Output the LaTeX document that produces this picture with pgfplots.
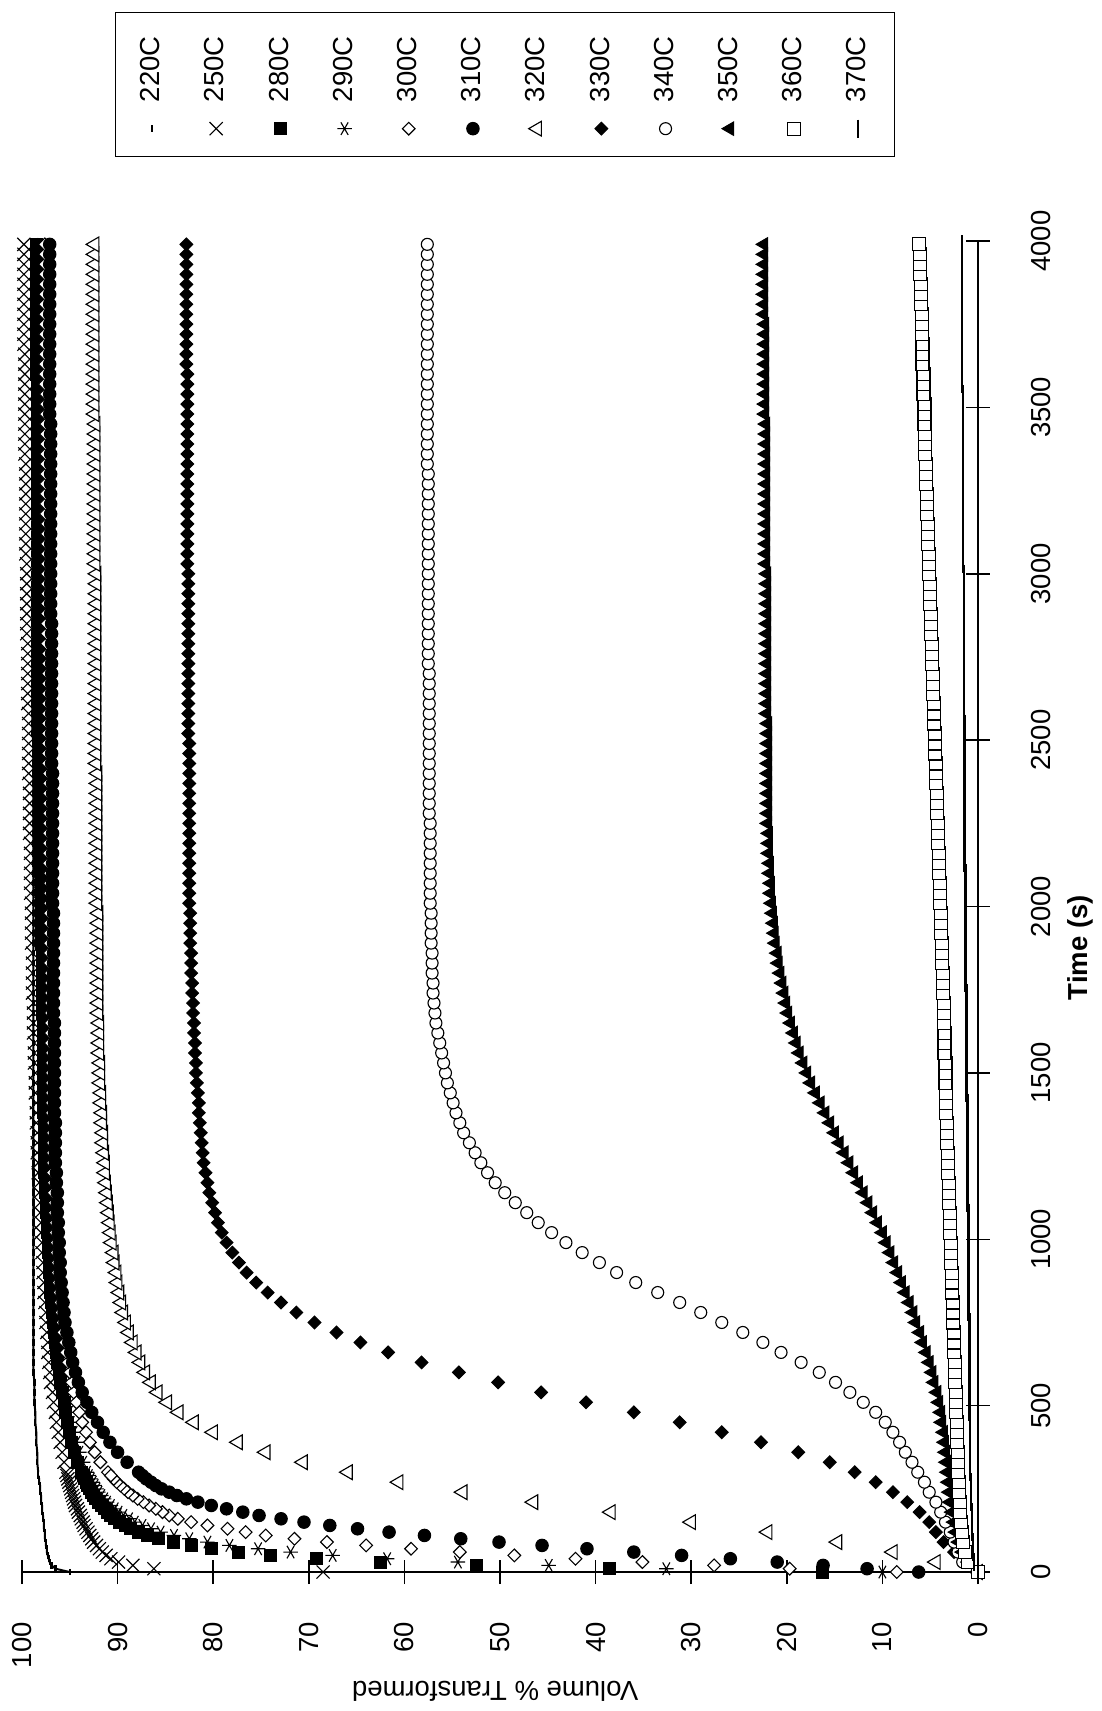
\documentclass[border=0pt]{standalone}
\usepackage{pgfplots}
\pgfplotsset{compat=1.18}
\usepackage{pgfplotstable}
\usepackage{fontspec}
\setmainfont{Liberation Sans}

% early, dense data (10 s) for the fast series
\pgfplotstableread{
t a b c d e f
0 95.0 68.5 16.3 10.0 8.5 6.2
10 96.5 86.2 38.5 32.6 19.7 11.6
20 96.9 88.4 52.5 44.9 27.6 16.2
30 97.1 89.9 62.5 54.4 35.1 21.0
40 97.2 90.7 69.2 61.8 42.1 25.9
50 97.3 91.2 74.0 67.5 48.5 31.0
60 97.4 91.6 77.4 71.9 54.2 36.0
70 97.4 91.9 80.2 75.3 59.3 40.9
80 97.5 92.2 82.3 78.3 64.0 45.6
90 97.5 92.5 84.2 80.6 68.1 50.1
100 97.6 92.7 85.7 82.5 71.5 54.1
110 97.6 92.9 86.9 84.1 74.5 57.9
120 97.6 93.1 87.8 85.5 76.6 61.6
130 97.7 93.3 88.6 86.5 78.5 64.9
140 97.7 93.5 89.2 87.4 80.6 67.8
150 97.7 93.6 89.8 88.2 82.3 70.5
160 97.8 93.8 90.3 88.8 83.7 72.9
170 97.8 93.9 90.7 89.4 84.6 75.2
180 97.9 94.1 91.1 89.9 85.3 76.9
190 97.9 94.2 91.4 90.3 86.0 78.6
200 97.9 94.4 91.7 90.7 86.7 80.2
210 98.0 94.5 92.0 91.1 87.3 81.6
220 98.0 94.6 92.3 91.4 87.9 82.8
230 98.0 94.7 92.5 91.7 88.4 83.8
240 98.1 94.8 92.7 92.0 88.9 84.6
250 98.1 94.9 92.9 92.2 89.3 85.4
260 98.1 95.0 93.1 92.4 89.7 86.0
270 98.2 95.1 93.3 92.6 90.1 86.5
280 98.2 95.2 93.5 92.8 90.4 87.0
290 98.3 95.3 93.6 93.0 90.7 87.4
}\early

\pgfplotstableread{
t c220 c250 c280 c290 c300 c310 c320 c330 c340 c350 c360 c370
0 nan nan nan nan nan nan 0.0 0.0 0.0 0.0 0.0 0.0
30 nan nan nan nan nan nan 4.4 1.3 1.6 1.0 1.0 0.4
60 nan nan nan nan nan nan 8.9 2.5 2.1 1.6 1.4 0.5
90 nan nan nan nan nan nan 14.7 3.6 2.5 2.0 1.6 0.5
120 nan nan nan nan nan nan 22.0 4.4 2.9 2.3 1.7 0.6
150 nan nan nan nan nan nan 30.0 5.1 3.4 2.5 1.8 0.6
180 nan nan nan nan nan nan 38.4 6.1 3.9 2.7 1.9 0.6
210 nan nan nan nan nan nan 46.5 7.4 4.4 2.9 1.9 0.7
240 nan nan nan nan nan nan 53.9 8.9 5.1 3.0 2.0 0.7
270 nan nan nan nan nan nan 60.6 10.7 5.6 3.1 2.0 0.7
300 98.3 95.4 93.8 93.2 91.0 87.8 65.9 12.9 6.3 3.2 2.1 0.8
330 98.4 95.6 94.2 93.6 91.8 89.0 70.6 15.5 6.9 3.3 2.1 0.8
360 98.4 95.8 94.5 94.0 92.4 90.0 74.5 18.8 7.6 3.4 2.1 0.8
390 98.5 96.0 94.8 94.3 92.9 90.8 77.4 22.7 8.2 3.5 2.2 0.8
420 98.5 96.2 95.0 94.6 93.3 91.5 80.0 26.8 8.9 3.6 2.2 0.8
450 98.6 96.4 95.2 94.9 93.7 92.1 82.0 31.2 9.7 3.8 2.2 0.8
480 98.6 96.5 95.4 95.1 94.0 92.7 83.6 36.0 10.7 3.9 2.3 0.9
510 98.7 96.7 95.6 95.3 94.3 93.2 84.8 41.0 12.0 4.1 2.3 0.9
540 98.7 96.8 95.8 95.5 94.6 93.7 85.8 45.7 13.4 4.3 2.3 0.9
570 98.7 97.0 96.0 95.7 94.8 94.1 86.5 50.2 14.9 4.6 2.4 0.9
600 98.8 97.1 96.1 95.8 95.0 94.4 87.1 54.3 16.6 4.8 2.4 0.9
630 98.8 97.2 96.3 96.0 95.2 94.7 87.6 58.2 18.5 5.1 2.4 0.9
660 98.8 97.3 96.4 96.1 95.4 94.9 88.0 61.7 20.6 5.4 2.5 0.9
690 98.8 97.3 96.5 96.2 95.5 95.1 88.4 64.6 22.5 5.8 2.5 0.9
720 98.8 97.4 96.6 96.3 95.7 95.3 88.8 67.1 24.6 6.1 2.5 0.9
750 98.8 97.5 96.7 96.4 95.8 95.5 89.1 69.4 26.8 6.5 2.6 0.9
780 98.8 97.5 96.8 96.5 95.9 95.6 89.4 71.3 29.0 6.8 2.6 1.0
810 98.8 97.6 96.9 96.6 96.0 95.7 89.6 72.9 31.2 7.2 2.6 1.0
840 98.8 97.7 97.0 96.7 96.1 95.8 89.8 74.3 33.5 7.6 2.7 1.0
870 98.8 97.7 97.0 96.7 96.2 95.9 90.0 75.5 35.8 8.0 2.7 1.0
900 98.8 97.8 97.1 96.8 96.3 96.0 90.1 76.5 37.8 8.4 2.7 1.0
930 98.8 97.8 97.1 96.8 96.3 96.0 90.3 77.3 39.6 8.8 2.8 1.0
960 98.8 97.9 97.2 96.9 96.4 96.1 90.4 78.0 41.4 9.2 2.8 1.0
990 98.8 97.9 97.2 96.9 96.4 96.1 90.6 78.6 43.1 9.6 2.8 1.0
1020 98.8 98.0 97.3 97.0 96.5 96.2 90.7 79.1 44.6 10.0 2.9 1.0
1050 98.8 98.0 97.3 97.0 96.5 96.2 90.8 79.5 46.0 10.5 2.9 1.0
1080 98.8 98.1 97.4 97.0 96.6 96.3 90.9 79.8 47.2 11.0 2.9 1.0
1110 98.8 98.1 97.4 97.1 96.6 96.3 91.0 80.1 48.4 11.5 3.0 1.1
1140 98.8 98.2 97.5 97.1 96.7 96.3 91.1 80.4 49.5 12.0 3.0 1.1
1170 98.8 98.2 97.5 97.1 96.7 96.4 91.2 80.6 50.5 12.5 3.0 1.1
1200 98.8 98.3 97.6 97.2 96.8 96.4 91.3 80.8 51.3 13.0 3.1 1.1
1230 98.8 98.3 97.6 97.2 96.8 96.5 91.3 81.0 52.0 13.5 3.1 1.1
1260 98.8 98.4 97.6 97.2 96.8 96.5 91.4 81.1 52.6 14.0 3.1 1.1
1290 98.8 98.4 97.6 97.2 96.8 96.5 91.5 81.2 53.2 14.5 3.2 1.1
1320 98.8 98.4 97.6 97.2 96.8 96.5 91.5 81.3 53.8 15.0 3.2 1.1
1350 98.8 98.5 97.6 97.2 96.8 96.5 91.6 81.4 54.2 15.5 3.2 1.1
1380 98.8 98.5 97.7 97.3 96.9 96.6 91.6 81.5 54.6 16.0 3.3 1.1
1410 98.8 98.5 97.7 97.3 96.9 96.6 91.7 81.5 54.9 16.5 3.3 1.1
1440 98.8 98.6 97.7 97.3 96.9 96.6 91.7 81.6 55.2 17.0 3.3 1.2
1470 98.8 98.6 97.7 97.3 96.9 96.6 91.8 81.7 55.5 17.5 3.4 1.2
1500 98.8 98.6 97.7 97.3 96.9 96.6 91.8 81.8 55.7 17.9 3.4 1.2
1530 98.8 98.7 97.8 97.4 96.9 96.6 91.8 81.8 55.9 18.3 3.4 1.2
1560 98.8 98.7 97.8 97.4 96.9 96.6 91.9 81.9 56.1 18.7 3.5 1.2
1590 98.8 98.7 97.8 97.4 97.0 96.6 91.9 81.9 56.3 19.0 3.5 1.2
1620 98.8 98.8 97.8 97.4 97.0 96.6 91.9 82.0 56.5 19.3 3.5 1.2
1650 98.8 98.8 97.8 97.4 97.0 96.6 91.9 82.0 56.7 19.6 3.6 1.2
1680 98.8 98.8 97.9 97.4 97.0 96.7 92.0 82.1 56.8 19.9 3.6 1.2
1710 98.8 98.8 97.9 97.4 97.0 96.7 92.0 82.1 56.9 20.1 3.6 1.2
1740 98.8 98.9 97.9 97.4 97.0 96.7 92.0 82.2 57.0 20.3 3.7 1.2
1770 98.8 98.9 97.9 97.5 97.0 96.7 92.0 82.2 57.0 20.5 3.7 1.3
1800 98.8 98.9 97.9 97.5 97.0 96.7 92.0 82.3 57.1 20.7 3.7 1.3
1830 98.8 98.9 97.9 97.5 97.1 96.7 92.0 82.3 57.1 20.9 3.8 1.3
1860 98.8 98.9 97.9 97.5 97.1 96.7 92.0 82.3 57.1 21.0 3.8 1.3
1890 98.8 99.0 98.0 97.5 97.1 96.7 92.0 82.4 57.2 21.2 3.8 1.3
1920 98.8 99.0 98.0 97.5 97.1 96.7 92.0 82.4 57.2 21.3 3.9 1.3
1950 98.8 99.0 98.0 97.5 97.1 96.7 92.0 82.4 57.2 21.4 3.9 1.3
1980 98.8 99.0 98.0 97.5 97.1 96.7 92.0 82.4 57.2 21.5 3.9 1.3
2010 98.8 99.0 98.0 97.6 97.1 96.8 92.1 82.5 57.3 21.6 4.0 1.3
2040 98.8 99.1 98.0 97.6 97.1 96.8 92.1 82.5 57.3 21.7 4.0 1.3
2070 98.8 99.1 98.0 97.6 97.1 96.8 92.1 82.5 57.3 21.7 4.0 1.3
2100 98.8 99.1 98.0 97.6 97.1 96.8 92.1 82.5 57.3 21.8 4.1 1.3
2130 98.8 99.1 98.1 97.6 97.2 96.8 92.1 82.5 57.3 21.8 4.1 1.4
2160 98.8 99.1 98.1 97.6 97.2 96.8 92.1 82.5 57.3 21.9 4.1 1.4
2190 98.8 99.1 98.1 97.6 97.2 96.8 92.1 82.5 57.3 21.9 4.2 1.4
2220 98.8 99.2 98.1 97.6 97.2 96.8 92.1 82.5 57.3 21.9 4.2 1.4
2250 98.8 99.2 98.1 97.6 97.2 96.8 92.1 82.5 57.3 22.0 4.2 1.4
2280 98.8 99.2 98.1 97.6 97.2 96.8 92.1 82.5 57.4 22.0 4.3 1.4
2310 98.8 99.2 98.1 97.7 97.2 96.8 92.1 82.5 57.4 22.0 4.3 1.4
2340 98.8 99.2 98.1 97.7 97.2 96.8 92.1 82.5 57.4 22.0 4.3 1.4
2370 98.8 99.2 98.1 97.7 97.2 96.8 92.1 82.5 57.4 22.0 4.4 1.4
2400 98.8 99.3 98.1 97.7 97.2 96.8 92.1 82.5 57.4 22.0 4.4 1.4
2430 98.8 99.3 98.2 97.7 97.3 96.9 92.2 82.5 57.4 22.0 4.4 1.4
2460 98.8 99.3 98.2 97.7 97.3 96.9 92.2 82.5 57.4 22.0 4.5 1.4
2490 98.8 99.3 98.2 97.7 97.3 96.9 92.2 82.5 57.4 22.0 4.5 1.4
2520 98.9 99.3 98.2 97.7 97.3 96.9 92.2 82.6 57.4 22.0 4.5 1.4
2550 98.9 99.3 98.2 97.7 97.3 96.9 92.2 82.6 57.4 22.0 4.6 1.4
2580 98.9 99.3 98.2 97.7 97.3 96.9 92.2 82.6 57.4 22.1 4.6 1.5
2610 98.9 99.4 98.2 97.7 97.3 96.9 92.2 82.6 57.4 22.1 4.6 1.5
2640 98.9 99.4 98.2 97.7 97.3 96.9 92.2 82.6 57.4 22.1 4.7 1.5
2670 98.9 99.4 98.2 97.8 97.3 96.9 92.2 82.6 57.4 22.1 4.7 1.5
2700 98.9 99.4 98.2 97.8 97.3 96.9 92.2 82.6 57.4 22.1 4.7 1.5
2730 98.9 99.4 98.2 97.8 97.3 96.9 92.2 82.6 57.5 22.1 4.8 1.5
2760 98.9 99.4 98.2 97.8 97.3 96.9 92.2 82.6 57.5 22.1 4.8 1.5
2790 98.9 99.4 98.3 97.8 97.4 96.9 92.2 82.6 57.5 22.1 4.8 1.5
2820 98.9 99.5 98.3 97.8 97.4 96.9 92.2 82.6 57.5 22.1 4.9 1.5
2850 98.9 99.5 98.3 97.8 97.4 96.9 92.2 82.6 57.5 22.1 4.9 1.5
2880 98.9 99.5 98.3 97.8 97.4 97.0 92.2 82.6 57.5 22.1 4.9 1.5
2910 98.9 99.5 98.3 97.8 97.4 97.0 92.2 82.6 57.5 22.1 5.0 1.5
2940 98.9 99.5 98.3 97.8 97.4 97.0 92.2 82.6 57.5 22.1 5.0 1.5
2970 98.9 99.5 98.3 97.8 97.4 97.0 92.2 82.6 57.5 22.1 5.0 1.5
3000 98.9 99.5 98.3 97.8 97.4 97.0 92.2 82.6 57.5 22.1 5.1 1.5
3030 98.9 99.5 98.3 97.8 97.4 97.0 92.3 82.7 57.5 22.2 5.1 1.6
3060 98.9 99.6 98.3 97.8 97.4 97.0 92.3 82.7 57.5 22.2 5.1 1.6
3090 98.9 99.6 98.3 97.9 97.4 97.0 92.3 82.7 57.5 22.2 5.2 1.6
3120 98.9 99.6 98.3 97.9 97.4 97.0 92.3 82.7 57.5 22.2 5.2 1.6
3150 98.9 99.6 98.3 97.9 97.4 97.0 92.3 82.7 57.5 22.2 5.2 1.6
3180 98.9 99.6 98.4 97.9 97.5 97.0 92.3 82.7 57.5 22.2 5.3 1.6
3210 98.9 99.6 98.4 97.9 97.5 97.0 92.3 82.7 57.5 22.2 5.3 1.6
3240 98.9 99.6 98.4 97.9 97.5 97.0 92.3 82.7 57.5 22.2 5.3 1.6
3270 98.9 99.6 98.4 97.9 97.5 97.0 92.3 82.7 57.5 22.2 5.4 1.6
3300 98.9 99.6 98.4 97.9 97.5 97.0 92.3 82.7 57.5 22.2 5.4 1.6
3330 98.9 99.6 98.4 97.9 97.5 97.0 92.3 82.7 57.6 22.2 5.4 1.6
3360 98.9 99.7 98.4 97.9 97.5 97.0 92.3 82.7 57.6 22.2 5.5 1.6
3390 98.9 99.7 98.4 97.9 97.5 97.0 92.3 82.7 57.6 22.2 5.5 1.6
3420 98.9 99.7 98.4 97.9 97.5 97.0 92.3 82.7 57.6 22.2 5.5 1.6
3450 98.9 99.7 98.4 97.9 97.5 97.0 92.3 82.7 57.6 22.2 5.6 1.6
3480 98.9 99.7 98.4 97.9 97.5 97.1 92.4 82.7 57.6 22.3 5.6 1.6
3510 98.9 99.7 98.4 97.9 97.5 97.1 92.4 82.7 57.6 22.3 5.6 1.6
3540 98.9 99.7 98.4 98.0 97.5 97.1 92.4 82.7 57.6 22.3 5.7 1.6
3570 98.9 99.7 98.4 98.0 97.6 97.1 92.4 82.7 57.6 22.3 5.7 1.7
3600 98.9 99.7 98.5 98.0 97.6 97.1 92.4 82.7 57.6 22.3 5.7 1.7
3630 98.9 99.7 98.5 98.0 97.6 97.1 92.4 82.8 57.6 22.3 5.8 1.7
3660 98.9 99.7 98.5 98.0 97.6 97.1 92.4 82.8 57.6 22.3 5.8 1.7
3690 98.9 99.8 98.5 98.0 97.6 97.1 92.4 82.8 57.6 22.3 5.8 1.7
3720 98.9 99.8 98.5 98.0 97.6 97.1 92.4 82.8 57.6 22.3 5.9 1.7
3750 98.9 99.8 98.5 98.0 97.6 97.1 92.4 82.8 57.6 22.3 5.9 1.7
3780 98.9 99.8 98.5 98.0 97.6 97.1 92.4 82.8 57.6 22.4 5.9 1.7
3810 98.9 99.8 98.5 98.0 97.6 97.1 92.4 82.8 57.6 22.4 6.0 1.7
3840 98.9 99.8 98.5 98.0 97.6 97.1 92.4 82.8 57.6 22.4 6.0 1.7
3870 98.9 99.8 98.5 98.0 97.6 97.1 92.4 82.8 57.6 22.4 6.0 1.7
3900 98.9 99.8 98.5 98.0 97.6 97.1 92.4 82.8 57.6 22.4 6.1 1.7
3930 98.9 99.8 98.5 98.0 97.6 97.1 92.4 82.8 57.6 22.4 6.1 1.7
3960 98.9 99.8 98.5 98.0 97.6 97.1 92.4 82.8 57.6 22.4 6.1 1.7
3990 98.9 99.8 98.5 98.0 97.6 97.1 92.4 82.8 57.6 22.4 6.2 1.7
}\main

\pgfplotsset{
  mk/.style={only marks},
  s220/.style={mk, mark=-, mark size=1.3pt, mark options={line width=0.9pt, draw=black}},
  s250/.style={mk, mark=x, mark size=3.7pt, mark options={line width=0.45pt, draw=black}},
  s280/.style={mk, mark=square*, mark size=2.4pt, mark options={line width=0.4pt, draw=black, fill=black}},
  s290/.style={mk, mark=asterisk, mark size=2.9pt, mark options={line width=0.45pt, draw=black}},
  s300/.style={mk, mark=square*, mark size=1.8pt, mark options={rotate=45, line width=0.45pt, draw=black, fill=white}},
  s310/.style={mk, mark=*, mark size=2.5pt, mark options={line width=0.4pt, draw=black, fill=black}},
  s320/.style={mk, mark=triangle*, mark size=3.4pt, mark options={line width=0.45pt, draw=black, fill=white}},
  s330/.style={mk, mark=square*, mark size=1.8pt, mark options={rotate=45, line width=0.4pt, draw=black, fill=black}},
  s340/.style={mk, mark=*, mark size=2.4pt, mark options={line width=0.45pt, draw=black, fill=white}},
  s350/.style={mk, mark=triangle*, mark size=3.1pt, mark options={line width=0.4pt, draw=black, fill=black}},
  s360/.style={mk, mark=square*, mark size=2.6pt, mark options={line width=0.45pt, draw=black, fill=white}},
  s370/.style={mk, mark=-, mark size=3.6pt, mark options={line width=0.9pt, draw=black}},
}

\begin{document}
\begin{tikzpicture}
\begin{scope}[rotate=90, transform shape]
\begin{axis}[
  scale only axis, width=532.4pt, height=382.4pt,
  xmin=0, xmax=4000, ymin=0, ymax=100,
  axis lines=left, axis line style={-, line width=0.6pt},
  xtick={0,500,...,4000}, ytick={0,10,...,100},
  tick align=center, major tick length=9.6pt,
  tick style={line width=0.6pt, black},
  clip=false,
  scaled x ticks=false, scaled y ticks=false,
  /pgf/number format/1000 sep={},
  /pgf/number format/assume math mode=true,
  tick label style={font=\fontsize{11}{13}\selectfont},
  xticklabel style={yshift=-12.9pt},
  yticklabel style={xshift=-11.7pt},
  xlabel={Time (s)}, ylabel={Volume \% Transformed},
  xlabel style={at={(axis description cs:0.469,-0.1067)}, anchor=center, font=\fontsize{11}{13}\selectfont\bfseries},
  ylabel style={at={(axis description cs:-0.0894,0.505)}, anchor=center, font=\fontsize{11}{13}\selectfont},
  legend cell align=left,
  legend style={at={(axis description cs:1.063,0.903)}, anchor=north west,
    draw=black, line width=0.6pt, inner xsep=7.5pt, inner ysep=8pt, row sep=12.5pt, column sep=5pt,
    font=\fontsize{11}{13}\selectfont},
]
\path (rel axis cs:-0.1044,-0.1297) rectangle (rel axis cs:1.1811,1.023);

% 220C
\addplot[forget plot, black, line width=0.8pt, mark=none] table[x=t, y=a]{\early};
\addplot[forget plot, black, line width=0.8pt, mark=none] table[x=t, y=c220]{\main};
\addplot[s220] table[x=t, y=c220]{\main};
\addlegendentry{220C}
\addplot[s220, forget plot] table[x=t, y=a]{\early};
% 250C
\addplot[s250] table[x=t, y=c250]{\main};
\addlegendentry{250C}
\addplot[s250, forget plot] table[x=t, y=b]{\early};
% 280C
\addplot[s280] table[x=t, y=c280]{\main};
\addlegendentry{280C}
\addplot[s280, forget plot] table[x=t, y=c]{\early};
% 290C
\addplot[s290] table[x=t, y=c290]{\main};
\addlegendentry{290C}
\addplot[s290, forget plot] table[x=t, y=d]{\early};
% 300C
\addplot[s300] table[x=t, y=c300]{\main};
\addlegendentry{300C}
\addplot[s300, forget plot] table[x=t, y=e]{\early};
% 310C
\addplot[s310] table[x=t, y=c310]{\main};
\addlegendentry{310C}
\addplot[s310, forget plot] table[x=t, y=f]{\early};
% slow series
\addplot[s320] table[x=t, y=c320]{\main};
\addlegendentry{320C}
\addplot[s330] table[x=t, y=c330]{\main};
\addlegendentry{330C}
\addplot[s340] table[x=t, y=c340]{\main};
\addlegendentry{340C}
\addplot[s350] table[x=t, y=c350]{\main};
\addlegendentry{350C}
\addplot[s360] table[x=t, y=c360]{\main};
\addlegendentry{360C}
\addplot[s370] table[x=t, y=c370]{\main};
\addlegendentry{370C}
\end{axis}
\end{scope}
\end{tikzpicture}
\end{document}
